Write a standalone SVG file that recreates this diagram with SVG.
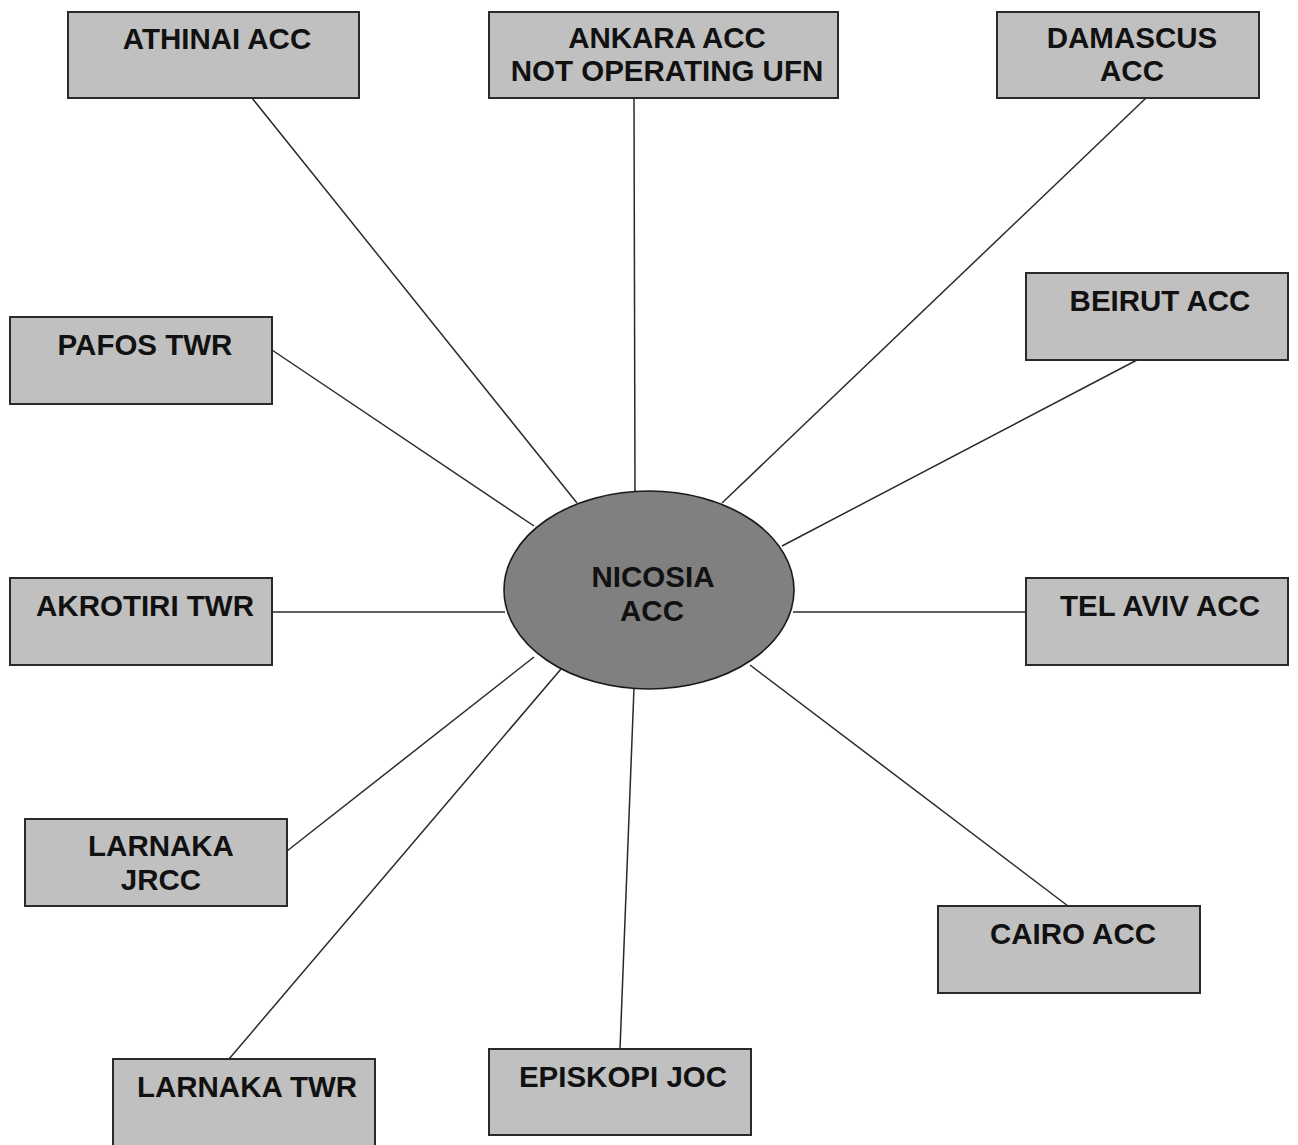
<svg xmlns="http://www.w3.org/2000/svg" width="1298" height="1145" viewBox="0 0 1298 1145">
<style>
.box{fill:#c0c0c0;stroke:#2a2a2a;stroke-width:2}
.hub{fill:#808080;stroke:#1a1a1a;stroke-width:1.6}
.t{font-family:"Liberation Sans",Arial,sans-serif;font-weight:bold;font-size:29.5px;fill:#111;text-anchor:middle}
.c line{stroke:#2a2a2a;stroke-width:1.5}
</style>
<rect width="1298" height="1145" fill="#fff"/>
<g class="c" id="connectors">
<line x1="252" y1="98" x2="577" y2="503"/>
<line x1="634" y1="98" x2="635" y2="492"/>
<line x1="1146" y1="98" x2="722" y2="503"/>
<line x1="1137" y1="360" x2="782" y2="546"/>
<line x1="272" y1="350" x2="534" y2="526"/>
<line x1="272" y1="612" x2="505" y2="612"/>
<line x1="793" y1="612" x2="1026" y2="612"/>
<line x1="287" y1="851" x2="534" y2="657"/>
<line x1="229" y1="1059" x2="561" y2="669"/>
<line x1="620" y1="1049" x2="634" y2="688"/>
<line x1="1068" y1="906" x2="750" y2="665"/>
</g>
<g id="athinai"><rect class="box" x="68" y="12" width="291" height="86"/><text class="t" x="217" y="49">ATHINAI ACC</text></g>
<g id="ankara"><rect class="box" x="489" y="12" width="349" height="86"/><text class="t" x="667" y="48">ANKARA ACC</text><text class="t" x="667" y="81">NOT OPERATING UFN</text></g>
<g id="damascus"><rect class="box" x="997" y="12" width="262" height="86"/><text class="t" x="1132" y="48">DAMASCUS</text><text class="t" x="1132" y="81">ACC</text></g>
<g id="beirut"><rect class="box" x="1026" y="273" width="262" height="87"/><text class="t" x="1160" y="311">BEIRUT ACC</text></g>
<g id="pafos"><rect class="box" x="10" y="317" width="262" height="87"/><text class="t" x="145" y="355">PAFOS TWR</text></g>
<g id="akrotiri"><rect class="box" x="10" y="578" width="262" height="87"/><text class="t" x="145" y="616">AKROTIRI TWR</text></g>
<g id="telaviv"><rect class="box" x="1026" y="578" width="262" height="87"/><text class="t" x="1160" y="616">TEL AVIV ACC</text></g>
<g id="larnaka-jrcc"><rect class="box" x="25" y="819" width="262" height="87"/><text class="t" x="161" y="856">LARNAKA</text><text class="t" x="161" y="890">JRCC</text></g>
<g id="cairo"><rect class="box" x="938" y="906" width="262" height="87"/><text class="t" x="1073" y="944">CAIRO ACC</text></g>
<g id="larnaka-twr"><rect class="box" x="113" y="1059" width="262" height="90"/><text class="t" x="247" y="1097">LARNAKA TWR</text></g>
<g id="episkopi"><rect class="box" x="489" y="1049" width="262" height="86"/><text class="t" x="623" y="1087">EPISKOPI JOC</text></g>
<g id="nicosia"><ellipse class="hub" cx="649" cy="590" rx="145" ry="99"/><text class="t" x="653" y="587">NICOSIA</text><text class="t" x="652" y="621">ACC</text></g>
</svg>
